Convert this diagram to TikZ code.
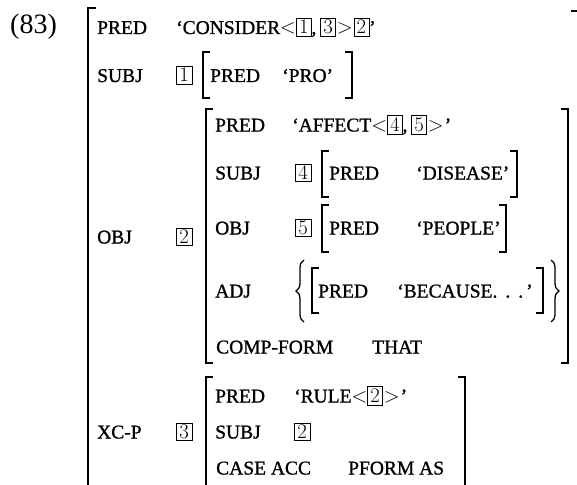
\documentclass[tikz,border=0pt]{standalone}
\usepackage{fontspec}
\setmainfont{Liberation Serif}
\newfontface\avmface{Liberation Serif}[Ligatures=TeX, FakeBold=1]
\usepackage{tikz}
\usetikzlibrary{decorations.pathreplacing}
\newcommand{\avmsize}{\avmface\fontsize{19.5}{20}\selectfont}
\newcommand{\tagnum}[1]{{\fboxsep=2.4pt\fboxrule=0.6pt\fbox{$#1$}}}
\newcommand{\lt}{${<}$}
\newcommand{\gt}{\hspace{1pt}${>}$\hspace{1pt}}
\newcommand{\tagsep}{,\hspace{4pt}}
\tikzstyle{featName}=[anchor = base west, inner sep = 0pt, font = \avmsize]
\tikzstyle{featValue}=[anchor = base west, inner sep = 0pt, font = \avmsize]
\tikzstyle{tagBox}=[shape = rectangle, draw, line width = 0.6pt, inner xsep = 3pt, inner ysep = 2.2pt, anchor = base west, font = \avmsize]
\tikzstyle{avmBracket}=[line width = 1.6pt]
\tikzstyle{outerBracket}=[line width = 2pt]
\tikzstyle{setBrace}=[line width = 1.3pt, decorate, decoration = {brace, amplitude = 8pt}]

\begin{document}
\begin{tikzpicture}[x = 1pt, y = -1pt]
\useasboundingbox (0,0) rectangle (577,484);
\node[anchor = base west, inner sep = 0pt, font = \fontsize{28}{30}\selectfont] (exNum) at (10,34) {(83)};
\node[featName] (fPred) at (97,34) {PRED};
\node[featValue] (vConsider) at (176,34) {`CONSIDER\lt\tagnum{1}\tagsep\tagnum{3}\gt\tagnum{2}'};
\node[featName] (fSubj) at (97,82) {SUBJ};
\node[tagBox] (tOne) at (176,82) {$1$};
\node[featName] (fProPred) at (210,82) {PRED};
\node[featValue] (vPro) at (282,82) {`PRO'};
\node[featName] (fObj) at (97,243.5) {OBJ};
\node[tagBox] (tTwo) at (176,243.5) {$2$};
\node[featName] (fAffPred) at (215,131.5) {PRED};
\node[featValue] (vAffect) at (292,131.5) {`AFFECT\lt\tagnum{4}\tagsep\tagnum{5}\gt'};
\node[featName] (fAffSubj) at (215,179.5) {SUBJ};
\node[tagBox] (tFour) at (295,179.5) {$4$};
\node[featName] (fDisPred) at (329,179.5) {PRED};
\node[featValue] (vDisease) at (416,179.5) {`DISEASE'};
\node[featName] (fAffObj) at (215,234.5) {OBJ};
\node[tagBox] (tFive) at (295,234.5) {$5$};
\node[featName] (fPeoPred) at (329,234.5) {PRED};
\node[featValue] (vPeople) at (416,234.5) {`PEOPLE'};
\node[featName] (fAdj) at (215,297.5) {ADJ};
\node[featName] (fBecPred) at (318,297.5) {PRED};
\node[featValue] (vBecause) at (397,297.5) {`BECAUSE.\hspace{8pt}.\hspace{8pt}.\hspace{3pt}'};
\node[featName] (fCompForm) at (216,353.5) {COMP-FORM};
\node[featValue] (vThat) at (372,353.5) {THAT};
\node[featName] (fXcp) at (97,438.5) {XC-P};
\node[tagBox] (tThree) at (176,438.5) {$3$};
\node[featName] (fRulePred) at (215,402.5) {PRED};
\node[featValue] (vRule) at (294,402.5) {`RULE\lt\tagnum{2}\gt'};
\node[featName] (fRuleSubj) at (215,438.5) {SUBJ};
\node[tagBox] (tTwoB) at (294,438.5) {$2$};
\node[featName] (fCase) at (216,474.5) {CASE ACC};
\node[featValue] (vPform) at (348,474.5) {PFORM AS};
\draw[outerBracket] (96,8) -- (88,8) -- (88,492);
\draw[outerBracket] (571,11) -- (580,11) -- (580,492);
\draw[avmBracket] (210,52) -- (203,52) -- (203,98) -- (210,98);
\draw[avmBracket] (345,52) -- (352,52) -- (352,98) -- (345,98);
\draw[avmBracket] (213,109) -- (206,109) -- (206,363) -- (213,363);
\draw[avmBracket] (561,109) -- (568,109) -- (568,363) -- (561,363);
\draw[avmBracket] (329,151) -- (322,151) -- (322,197) -- (329,197);
\draw[avmBracket] (510,151) -- (517,151) -- (517,197) -- (510,197);
\draw[avmBracket] (329,205) -- (322,205) -- (322,252) -- (329,252);
\draw[avmBracket] (499,205) -- (506,205) -- (506,252) -- (499,252);
\draw[avmBracket] (319,268) -- (312,268) -- (312,313) -- (319,313);
\draw[avmBracket] (536,268) -- (543,268) -- (543,313) -- (536,313);
\draw[setBrace] (304,322) -- (304,260);
\draw[setBrace] (551,260) -- (551,322);
\draw[avmBracket] (213,377) -- (206,377) -- (206,492);
\draw[avmBracket] (458,377) -- (465,377) -- (465,492);
\end{tikzpicture}
\end{document}
